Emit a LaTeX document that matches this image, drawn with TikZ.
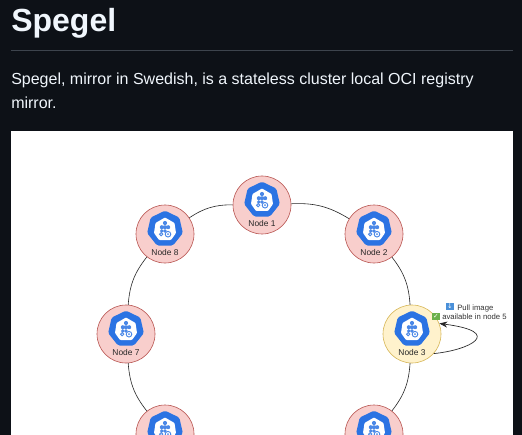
\documentclass[tikz,border=0pt]{standalone}
\usepackage{fontspec}
\setmainfont{Liberation Sans}
\newfontfamily\symfont{DejaVu Sans}
\usetikzlibrary{shapes.geometric,arrows.meta}
\definecolor{pagebg}{HTML}{0D1117}
\definecolor{pagefg}{HTML}{F0F6FC}
\definecolor{rulecol}{HTML}{3D444D}
\definecolor{kblue}{HTML}{2B73E3}
\definecolor{emblue}{HTML}{4A90D9}
\definecolor{emgreen}{HTML}{6CB04A}
\tikzset{
  x=0.75pt,y=-0.75pt,
  base/.style={circle,draw,line width=.45pt,minimum size=43.5pt,inner sep=0pt},
  rednode/.style={base,fill={rgb,255:red,248;green,206;blue,204},draw={rgb,255:red,184;green,84;blue,80}},
  yellownode/.style={base,fill={rgb,255:red,255;green,242;blue,204},draw={rgb,255:red,214;green,182;blue,86}},
  ringline/.style={draw=black!85,line width=.45pt},
  nodetext/.style={anchor=base,font=\fontsize{6.3}{7}\selectfont,text=black!85,inner sep=0pt},
  smalltext/.style={anchor=base west,font=\fontsize{5.8}{7}\selectfont,text=black!80,inner sep=0pt},
  pagetext/.style={anchor=base west,inner sep=0pt,text=pagefg},
  emojibox/.style={anchor=center,inner sep=0pt,minimum size=5.8pt,text=white,font=\symfont\fontsize{5}{5}\selectfont},
  kube/.pic={
    \node[regular polygon,regular polygon sides=7,fill=kblue,rounded corners=1.2pt,minimum size=27.5pt,inner sep=0pt] (hept) at (0,0) {};
    \fill[white,rounded corners=.6pt] (0,-11.5) -- (9.5,-6) -- (11,4) -- (6,11) -- (-6,11) -- (-11,4) -- (-9.5,-6) -- cycle;
    \fill[kblue!85] (0,-6) circle (2.1) (-3.2,-1.8) circle (2) (0,-1.8) circle (2) (3.2,-1.8) circle (2) (-3.2,2) circle (1.9) (0,2) circle (1.9);
    \draw[kblue!85,line width=.7pt] (3,5.2) circle (2.8) (-3.8,5.2) circle (1.6);
    \fill[kblue!85] (3,5.2) circle (1);
  }
}
\begin{document}
\begin{tikzpicture}
\useasboundingbox (0,0) rectangle (522,435);
\fill[pagebg] (0,0) rectangle (522,435);
\node[pagetext,font=\bfseries\fontsize{24}{28}\selectfont] (title) at (11,31.5) {Spegel};
\draw[rulecol,line width=.75pt] (11,50.3) -- (513,50.3);
\node[pagetext,font=\fontsize{12}{14}\selectfont] (line1) at (11,84.5) {Spegel, mirror in Swedish, is a stateless cluster local OCI registry};
\node[pagetext,font=\fontsize{12}{14}\selectfont] (line2) at (11,108.5) {mirror.};
\fill[white] (11,131) rectangle (513,435);
\begin{scope}
\clip (11,131) rectangle (513,435);
\node[rednode] (n1) at (262,205) {};
\node[rednode] (n2) at (374,234) {};
\node[yellownode] (n3) at (412,334) {};
\node[rednode] (n4) at (374,434) {};
\node[rednode] (n6) at (165,434) {};
\node[rednode] (n7) at (126,334) {};
\node[rednode] (n8) at (165,234) {};
\draw[ringline] (n1) to[bend left=17] (n2);
\draw[ringline] (n2) to[bend left=17] (n3);
\draw[ringline] (n3) to[bend left=17] (n4);
\draw[ringline] (n6) to[bend left=17] (n7);
\draw[ringline] (n7) to[bend left=17] (n8);
\draw[ringline] (n8) to[bend left=17] (n1);
\pic (k1) at (262,200) {kube};
\pic (k2) at (374,229) {kube};
\pic (k3) at (412,329) {kube};
\pic (k4) at (374,429) {kube};
\pic (k6) at (165,429) {kube};
\pic (k7) at (126,329) {kube};
\pic (k8) at (165,229) {kube};
\node[nodetext] (t1) at (262,226) {Node 1};
\node[nodetext] (t2) at (374,255) {Node 2};
\node[nodetext] (t3) at (412,355) {Node 3};
\node[nodetext] (t7) at (126,355) {Node 7};
\node[nodetext] (t8) at (165,255) {Node 8};
\draw[black!85,line width=.5pt,-{Stealth[length=6pt,width=4.5pt]}] (n3.-42) .. controls (470,350) and (505,332) .. (n3.21);
\node[emojibox,fill=emblue] (blue) at (450,306.5) {↓};
\node[emojibox,fill=emgreen] (green) at (436,316.5) {✓};
\node[smalltext] (pull) at (457,310) {Pull image};
\node[smalltext] (avail) at (442,319) {available in node 5};
\end{scope}
\end{tikzpicture}
\end{document}
